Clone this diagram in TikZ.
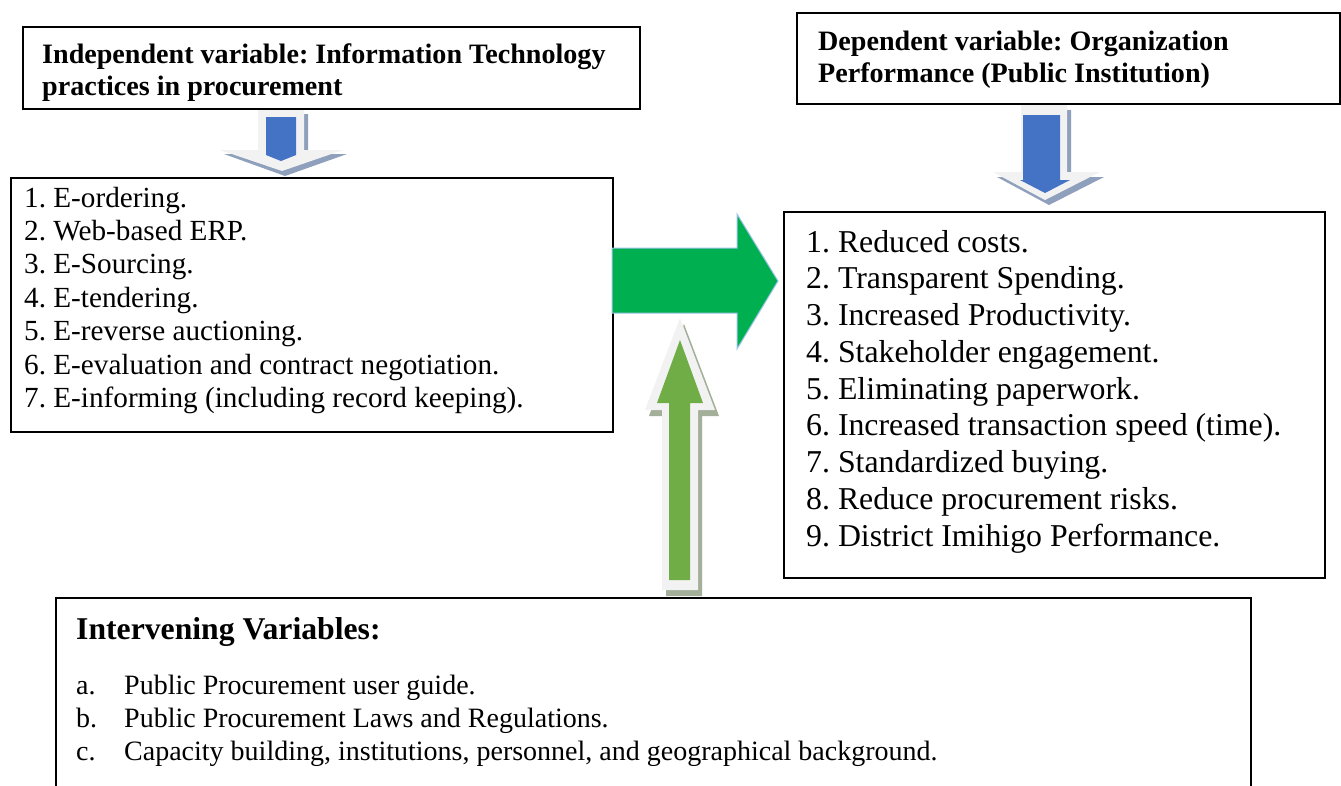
\documentclass[tikz,border=0pt]{standalone}
\usepackage{fontspec}
\setmainfont{Liberation Serif}
\frenchspacing
\definecolor{bluefill}{HTML}{4472C4}
\definecolor{blueshadow}{HTML}{8FA0BC}
\definecolor{lightfill}{HTML}{F2F2F2}
\definecolor{greenfill}{HTML}{00B050}
\definecolor{greenedge}{HTML}{9DC3E6}
\definecolor{olivefill}{HTML}{70AD47}
\definecolor{oliveshadow}{HTML}{A3AF98}
\begin{document}
\frenchspacing
\begin{tikzpicture}[x=1pt,y=-1pt,
  box/.style={draw=black, line width=1.6pt, rectangle, inner sep=0pt, anchor=north west},
  hd/.style={anchor=base west, inner sep=0pt, font=\fontsize{28.1}{32}\selectfont\bfseries},
  ll/.style={anchor=base west, inner sep=0pt, font=\fontsize{29.2}{33}\selectfont},
  rl/.style={anchor=base west, inner sep=0pt, font=\fontsize{31.8}{36}\selectfont},
  bt/.style={anchor=base west, inner sep=0pt, font=\fontsize{31.7}{36}\selectfont\bfseries},
  bl/.style={anchor=base west, inner sep=0pt, font=\fontsize{28}{32}\selectfont}]
\useasboundingbox (0,0) rectangle (1341,785);
\fill[white] (0,0) rectangle (1341,785);

% boxes
\node[box, minimum width=617pt, minimum height=82pt] (iv) at (22,26) {};
\node[box, minimum width=543pt, minimum height=91pt] (dv) at (796,12) {};
\node[box, minimum width=602pt, minimum height=254pt] (ivlist) at (10,177) {};
\node[box, minimum width=541pt, minimum height=366pt] (dvlist) at (783,211) {};
\node[box, minimum width=1195pt, minimum height=200pt] (inter) at (55,597) {};

% header texts
\node[hd] (ivt1) at (42,63) {Independent variable: Information Technology};
\node[hd] (ivt2) at (42,95) {practices in procurement};
\node[hd] (dvt1) at (818,50) {Dependent variable: Organization};
\node[hd] (dvt2) at (818,82) {Performance (Public Institution)};

% left list
\foreach \t [count=\i] in {1. E-ordering., 2. Web-based ERP., 3. E-Sourcing., 4. E-tendering., 5. E-reverse auctioning., 6. E-evaluation and contract negotiation., 7. E-informing (including record keeping).}
  \node[ll] (ivi\i) at (24,{207+(\i-1)*33.4}) {\t};

% right list
\foreach \t [count=\i] in {1. Reduced costs., 2. Transparent Spending., 3. Increased Productivity., 4. Stakeholder engagement., 5. Eliminating paperwork., 6. Increased transaction speed (time)., 7. Standardized buying., 8. Reduce procurement risks., 9. District Imihigo Performance.}
  \node[rl] (dvi\i) at (806,{252+(\i-1)*36.75}) {\t};

% intervening
\node[bt] (intt) at (76,639) {Intervening Variables:};
\node[bl] (ia) at (76,694) {a.};
\node[bl] (ib) at (76,727) {b.};
\node[bl] (ic) at (76,760) {c.};
\node[bl] (iat) at (124,694) {Public Procurement user guide.};
\node[bl] (ibt) at (124,727) {Public Procurement Laws and Regulations.};
\node[bl] (ict) at (124,760) {Capacity building, institutions, personnel, and geographical background.};

% left blue down arrow
\fill[blueshadow] (262,114) -- (308,114) -- (308,154) -- (347,154) -- (285,176) -- (224,154) -- (262,154) -- cycle;
\fill[lightfill] (258,110) -- (304,110) -- (304,150) -- (343,150) -- (282,171) -- (220,150) -- (258,150) -- cycle;
\fill[bluefill] (266,117) -- (296,117) -- (296,155) -- (281,161) -- (266,155) -- cycle;

% right blue down arrow
\fill[blueshadow] (1025,110) -- (1071,110) -- (1071,177) -- (1104,177) -- (1049,205) -- (997,177) -- (1025,177) -- cycle;
\fill[lightfill] (1021,105) -- (1067,105) -- (1067,172) -- (1100,172) -- (1045,200) -- (993,172) -- (1021,172) -- cycle;
\fill[bluefill] (1023,115) -- (1060,115) -- (1060,180) -- (1070,180) -- (1045,193) -- (1020,180) -- (1023,180) -- cycle;

% green right arrow
\draw[fill=greenfill, draw=greenedge, line width=1pt] (612,248) -- (737,248) -- (737,214) -- (778,281) -- (737,349) -- (737,313) -- (612,313) -- cycle;

% green up arrow
\fill[oliveshadow] (666,596) -- (666,416) -- (649,416) -- (684,324) -- (719,416) -- (702,416) -- (702,596) -- cycle;
\fill[lightfill] (662,590) -- (662,410) -- (645,410) -- (680,318) -- (715,410) -- (698,410) -- (698,590) -- cycle;
\fill[olivefill] (669,580) -- (669,403) -- (657,403) -- (680,340) -- (703,403) -- (690,403) -- (690,580) -- cycle;
\end{tikzpicture}
\end{document}
